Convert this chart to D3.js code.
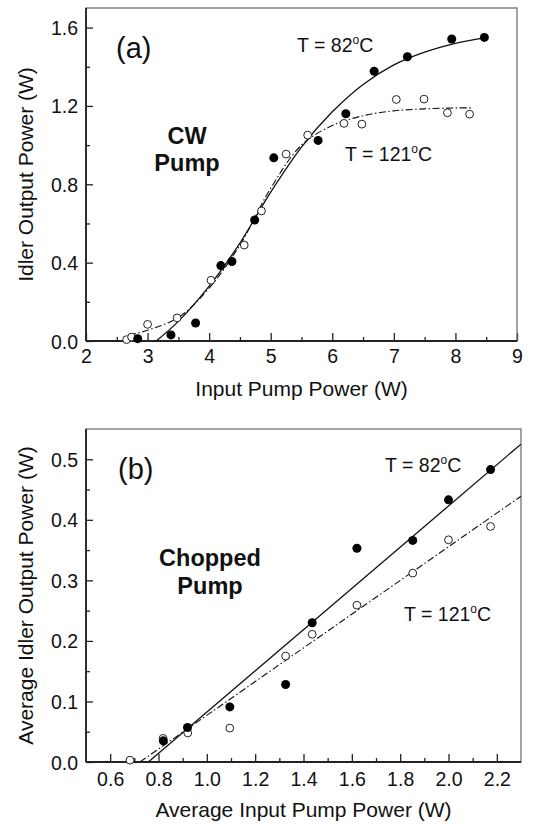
<!DOCTYPE html>
<html lang="en">
  <head>
    <meta charset="utf-8">
    <title>Idler output power</title>
    <script src="https://d3js.org/d3.v7.min.js"></script>
    <style>
      body { margin: 0; background: #fff; }
      svg text { font-family: Arial, "Liberation Sans", sans-serif; fill: #111; }
    </style>
  </head>
  <body>
    <div id="chart"></div>

    <script>
      // ---- data ----
      // (a) CW pump: measured points, [input W, idler W]
      var cw82 = [[2.84,0.012],[3.38,0.031],[3.78,0.092],[4.19,0.385],[4.37,0.406],
                  [4.74,0.618],[5.05,0.935],[5.77,1.024],[6.22,1.16],[6.68,1.377],
                  [7.22,1.451],[7.94,1.542],[8.47,1.55]];
      var cw121 = [[2.66,0.007],[2.74,0.02],[3.0,0.085],[3.48,0.118],[4.03,0.31],
                   [4.57,0.49],[4.85,0.664],[5.25,0.954],[5.6,1.051],[6.19,1.111],
                   [6.48,1.107],[7.04,1.233],[7.49,1.235],[7.87,1.165],[8.23,1.158]];
      // fitted curves
      var cwFit82 = [[3.14,0],[3.5,0.1],[4.0,0.28],[4.5,0.5],[5.0,0.76],[5.5,0.99],
                     [6.0,1.17],[6.5,1.31],[7.0,1.41],[7.5,1.475],[8.0,1.52],[8.47,1.548]];
      var cwFit121 = [[2.7,0.03],[3.0,0.055],[3.5,0.12],[4.0,0.27],[4.5,0.49],[5.0,0.78],
                      [5.5,1.0],[6.0,1.1],[6.5,1.15],[7.0,1.175],[7.5,1.185],[8.0,1.19],[8.25,1.19]];

      // (b) chopped pump
      var ch82 = [[0.82,0.035],[0.92,0.057],[1.095,0.091],[1.326,0.128],[1.436,0.23],
                  [1.621,0.353],[1.852,0.366],[2.0,0.433],[2.174,0.483]];
      var ch121 = [[0.682,0.003],[0.819,0.039],[0.921,0.048],[1.095,0.056],[1.326,0.175],
                   [1.436,0.211],[1.621,0.259],[1.852,0.312],[2.0,0.367],[2.174,0.389]];
      var chFit82 = [[0.758,0],[2.3,0.525]];
      var chFit121 = [[0.723,0],[2.3,0.439]];

      // tick values
      var cwXTicks = [2,3,4,5,6,7,8,9];
      var cwYTicks = [0,0.4,0.8,1.2,1.6];
      var chXTicks = [0.6,0.8,1.0,1.2,1.4,1.6,1.8,2.0,2.2];
      var chYTicks = [0,0.1,0.2,0.3,0.4,0.5];

      var svg = d3.select("#chart").append("svg")
        .attr("width", 540)
        .attr("height", 825);

      function panel(p) {
        var x = d3.scaleLinear().domain(p.xDomain).range([p.left, p.right]);
        var y = d3.scaleLinear().domain(p.yDomain).range([p.bottom, p.top]);
        var g = svg.append("g");

        // minor ticks
        g.append("g")
          .attr("transform", "translate(0," + p.bottom + ")")
          .call(d3.axisBottom(x).tickValues(p.xMinor).tickSizeInner(-4).tickSizeOuter(0).tickFormat(""))
          .call(function(a) { a.select(".domain").remove(); });
        g.append("g")
          .attr("transform", "translate(" + p.left + ",0)")
          .call(d3.axisLeft(y).tickValues(p.yMinor).tickSizeInner(-4).tickSizeOuter(0).tickFormat(""))
          .call(function(a) { a.select(".domain").remove(); });

        // major ticks with labels
        var xa = g.append("g")
          .attr("transform", "translate(0," + p.bottom + ")")
          .call(d3.axisBottom(x).tickValues(p.xTicks).tickSizeInner(-8).tickSizeOuter(0)
            .tickPadding(p.xPad).tickFormat(d3.format(p.xFmt)));
        var ya = g.append("g")
          .attr("transform", "translate(" + p.left + ",0)")
          .call(d3.axisLeft(y).tickValues(p.yTicks).tickSizeInner(-7).tickSizeOuter(0)
            .tickPadding(8).tickFormat(d3.format(".1f")));
        g.selectAll(".domain").remove();
        g.selectAll(".tick line").attr("stroke", "#222").attr("stroke-width", 1.3);
        xa.selectAll("text").style("font-size", "19.5px").attr("fill", "#111");
        ya.selectAll("text").style("font-size", "19.5px").attr("fill", "#111").attr("dy", "0.36em");

        // frame
        g.append("rect")
          .attr("x", p.left).attr("y", p.top)
          .attr("width", p.right - p.left).attr("height", p.bottom - p.top)
          .attr("fill", "none").attr("stroke", "#666").attr("stroke-width", 1.2);
        g.append("line")
          .attr("x1", p.left).attr("x2", p.right).attr("y1", p.bottom).attr("y2", p.bottom)
          .attr("stroke", "#222").attr("stroke-width", 1.8);
        g.append("line")
          .attr("x1", p.left).attr("x2", p.left).attr("y1", p.top).attr("y2", p.bottom)
          .attr("stroke", "#222").attr("stroke-width", 1.8);

        // clip for the fits
        var clipId = "clip" + p.name;
        svg.append("clipPath").attr("id", clipId).append("rect")
          .attr("x", p.left).attr("y", p.top)
          .attr("width", p.right - p.left).attr("height", p.bottom - p.top);

        var line = d3.line()
          .x(function(d) { return x(d[0]); })
          .y(function(d) { return y(d[1]); })
          .curve(d3.curveCatmullRom.alpha(0.5));

        g.append("path").datum(p.fit82)
          .attr("clip-path", "url(#" + clipId + ")")
          .attr("d", line).attr("fill", "none").attr("stroke", "#111").attr("stroke-width", 1.3);
        g.append("path").datum(p.fit121)
          .attr("clip-path", "url(#" + clipId + ")")
          .attr("d", line).attr("fill", "none").attr("stroke", "#111").attr("stroke-width", 1.1)
          .attr("stroke-dasharray", "7,2.5,1.5,2.5");

        // points
        g.selectAll("circle.open").data(p.pts121).enter().append("circle")
          .attr("class", "open")
          .attr("cx", function(d) { return x(d[0]); })
          .attr("cy", function(d) { return y(d[1]); })
          .attr("r", 3.9).attr("fill", "#fff").attr("stroke", "#222").attr("stroke-width", 1);
        g.selectAll("circle.full").data(p.pts82).enter().append("circle")
          .attr("class", "full")
          .attr("cx", function(d) { return x(d[0]); })
          .attr("cy", function(d) { return y(d[1]); })
          .attr("r", 4.5).attr("fill", "#000");

        // axis titles
        g.append("text")
          .attr("x", (p.left + p.right) / 2).attr("y", p.bottom + 55)
          .attr("text-anchor", "middle").style("font-size", "21px")
          .text(p.xTitle);
        g.append("text")
          .attr("transform", "translate(" + 33 + "," + (p.top + p.bottom) / 2 + ") rotate(-90)")
          .attr("text-anchor", "middle").style("font-size", "21px")
          .text(p.yTitle);

        // annotations
        g.append("text").attr("x", p.tag[0]).attr("y", p.tag[1])
          .style("font-size", "29px").text(p.tagText);

        p.temps.forEach(function(t) {
          var tx = g.append("text").attr("x", t[0]).attr("y", t[1]).style("font-size", "19.5px");
          tx.append("tspan").text(t[2]);
          tx.append("tspan").attr("dy", -8).style("font-size", "12px").text("o");
          tx.append("tspan").attr("dy", 8).text("C");
        });

        p.pump.forEach(function(t) {
          g.append("text").attr("x", t[0]).attr("y", t[1])
            .attr("text-anchor", "middle").style("font-size", "23.5px").style("font-weight", "bold")
            .text(t[2]);
        });
      }

      panel({
        name: "a",
        xDomain: [2, 9], yDomain: [0, 1.7],
        left: 86, right: 517, top: 8, bottom: 341,
        xTicks: cwXTicks, xMinor: [2.5,3.5,4.5,5.5,6.5,7.5,8.5],
        yTicks: cwYTicks, yMinor: [0.2,0.6,1.0,1.4],
        xFmt: "d", xPad: 8,
        pts82: cw82, pts121: cw121, fit82: cwFit82, fit121: cwFit121,
        xTitle: "Input Pump Power (W)", yTitle: "Idler Output Power (W)",
        tag: [116, 58], tagText: "(a)",
        temps: [[297, 52, "T = 82"], [345, 161, "T = 121"]],
        pump: [[187, 144, "CW"], [187, 171, "Pump"]]
      });

      panel({
        name: "b",
        xDomain: [0.5, 2.3], yDomain: [0, 0.55],
        left: 86, right: 521, top: 429, bottom: 762,
        xTicks: chXTicks, xMinor: [0.7,0.9,1.1,1.3,1.5,1.7,1.9,2.1],
        yTicks: chYTicks, yMinor: [0.05,0.15,0.25,0.35,0.45],
        xFmt: ".1f", xPad: 10,
        pts82: ch82, pts121: ch121, fit82: chFit82, fit121: chFit121,
        xTitle: "Average Input Pump Power (W)", yTitle: "Average Idler Output Power (W)",
        tag: [118, 479], tagText: "(b)",
        temps: [[385, 472, "T = 82"], [404, 621, "T = 121"]],
        pump: [[210, 566, "Chopped"], [210, 594, "Pump"]]
      });
    </script>
  </body>
</html>
